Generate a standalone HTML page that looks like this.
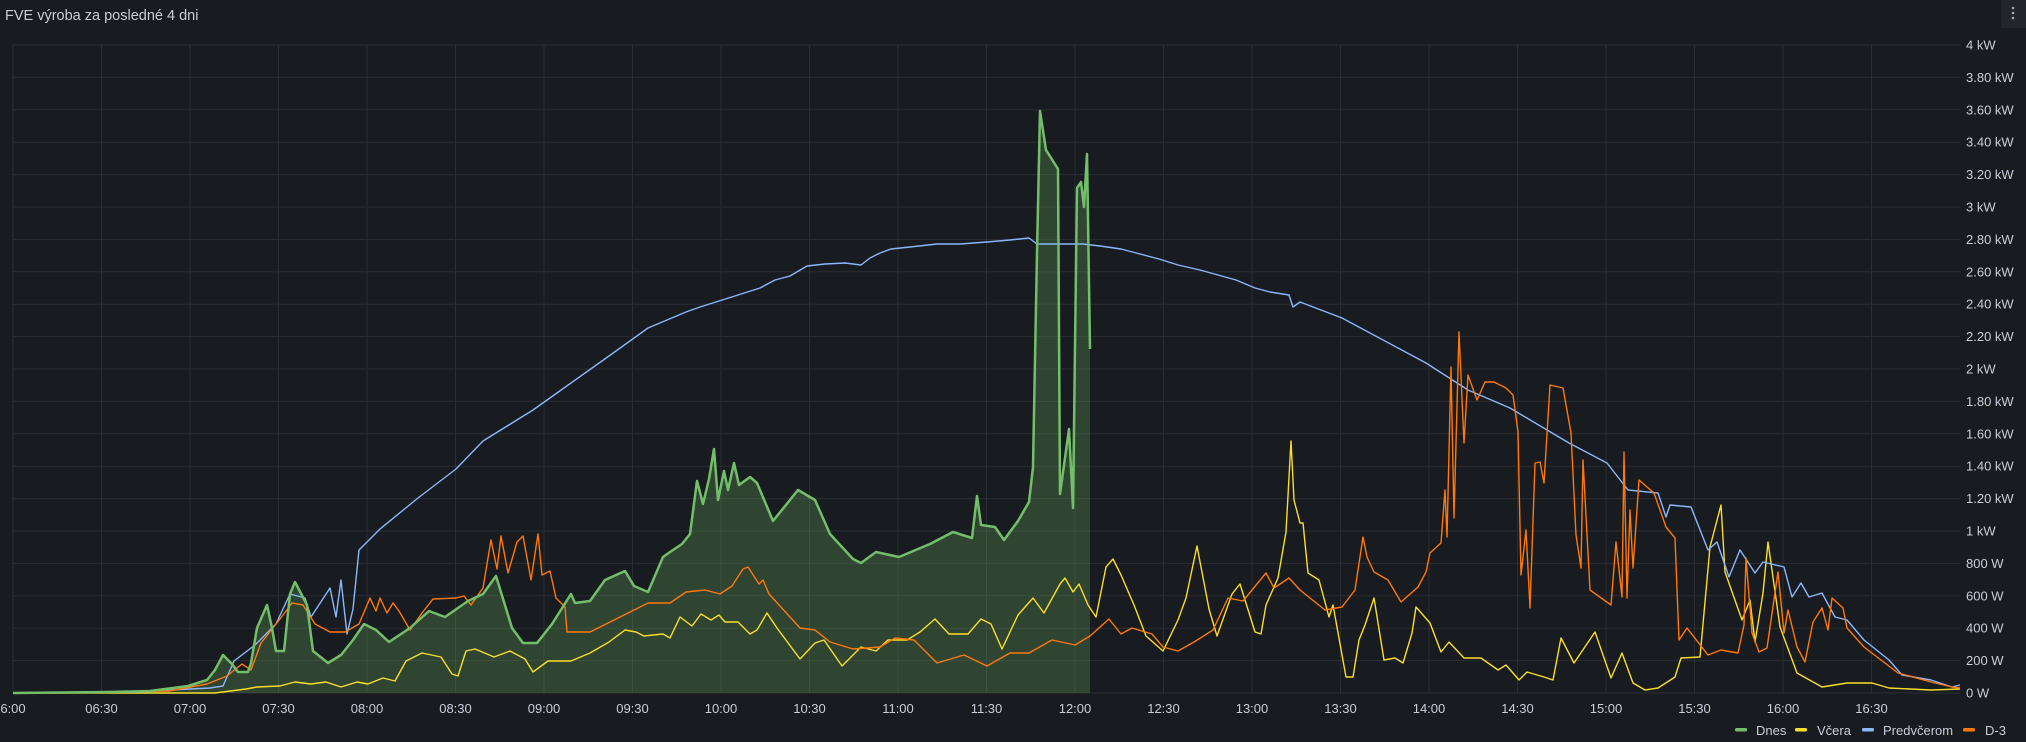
<!DOCTYPE html>
<html><head><meta charset="utf-8"><style>
html,body{margin:0;padding:0;background:#181b1f;width:2026px;height:742px;overflow:hidden;font-family:"Liberation Sans",sans-serif}
</style></head><body>
<svg width="2026" height="742" viewBox="0 0 2026 742" xmlns="http://www.w3.org/2000/svg" font-family="Liberation Sans, sans-serif">
<rect width="2026" height="742" fill="#181b1f"/>
<text x="5" y="20" font-size="14.5" fill="#ccccdc">FVE výroba za posledné 4 dni</text>
<rect x="2001" y="0" width="25" height="28" fill="#22252b"/>
<circle cx="2013" cy="8" r="1.3" fill="#aaa"/><circle cx="2013" cy="13" r="1.3" fill="#aaa"/><circle cx="2013" cy="18" r="1.3" fill="#aaa"/>
<g stroke="#2a2d33" stroke-width="1">
<line x1="13" x2="1960" y1="45" y2="45"/><line x1="13" x2="1960" y1="77.4" y2="77.4"/><line x1="13" x2="1960" y1="109.8" y2="109.8"/><line x1="13" x2="1960" y1="142.2" y2="142.2"/><line x1="13" x2="1960" y1="174.6" y2="174.6"/><line x1="13" x2="1960" y1="207" y2="207"/><line x1="13" x2="1960" y1="239.4" y2="239.4"/><line x1="13" x2="1960" y1="271.8" y2="271.8"/><line x1="13" x2="1960" y1="304.2" y2="304.2"/><line x1="13" x2="1960" y1="336.6" y2="336.6"/><line x1="13" x2="1960" y1="369" y2="369"/><line x1="13" x2="1960" y1="401.4" y2="401.4"/><line x1="13" x2="1960" y1="433.8" y2="433.8"/><line x1="13" x2="1960" y1="466.2" y2="466.2"/><line x1="13" x2="1960" y1="498.6" y2="498.6"/><line x1="13" x2="1960" y1="531" y2="531"/><line x1="13" x2="1960" y1="563.4" y2="563.4"/><line x1="13" x2="1960" y1="595.8" y2="595.8"/><line x1="13" x2="1960" y1="628.2" y2="628.2"/><line x1="13" x2="1960" y1="660.6" y2="660.6"/><line x1="13" x2="1960" y1="693" y2="693"/>
<line x1="13" x2="13" y1="45" y2="693"/><line x1="101.5" x2="101.5" y1="45" y2="693"/><line x1="190" x2="190" y1="45" y2="693"/><line x1="278.5" x2="278.5" y1="45" y2="693"/><line x1="367" x2="367" y1="45" y2="693"/><line x1="455.5" x2="455.5" y1="45" y2="693"/><line x1="544" x2="544" y1="45" y2="693"/><line x1="632.5" x2="632.5" y1="45" y2="693"/><line x1="721" x2="721" y1="45" y2="693"/><line x1="809.5" x2="809.5" y1="45" y2="693"/><line x1="898" x2="898" y1="45" y2="693"/><line x1="986.5" x2="986.5" y1="45" y2="693"/><line x1="1075" x2="1075" y1="45" y2="693"/><line x1="1163.5" x2="1163.5" y1="45" y2="693"/><line x1="1252" x2="1252" y1="45" y2="693"/><line x1="1340.5" x2="1340.5" y1="45" y2="693"/><line x1="1429" x2="1429" y1="45" y2="693"/><line x1="1517.5" x2="1517.5" y1="45" y2="693"/><line x1="1606" x2="1606" y1="45" y2="693"/><line x1="1694.5" x2="1694.5" y1="45" y2="693"/><line x1="1783" x2="1783" y1="45" y2="693"/><line x1="1871.5" x2="1871.5" y1="45" y2="693"/>
</g>
<g font-size="13" fill="#ccccdc">
<text x="1966" y="49.5">4 kW</text><text x="1966" y="81.9">3.80 kW</text><text x="1966" y="114.3">3.60 kW</text><text x="1966" y="146.7">3.40 kW</text><text x="1966" y="179.1">3.20 kW</text><text x="1966" y="211.5">3 kW</text><text x="1966" y="243.9">2.80 kW</text><text x="1966" y="276.3">2.60 kW</text><text x="1966" y="308.7">2.40 kW</text><text x="1966" y="341.1">2.20 kW</text><text x="1966" y="373.5">2 kW</text><text x="1966" y="405.9">1.80 kW</text><text x="1966" y="438.3">1.60 kW</text><text x="1966" y="470.7">1.40 kW</text><text x="1966" y="503.1">1.20 kW</text><text x="1966" y="535.5">1 kW</text><text x="1966" y="567.9">800 W</text><text x="1966" y="600.3">600 W</text><text x="1966" y="632.7">400 W</text><text x="1966" y="665.1">200 W</text><text x="1966" y="697.5">0 W</text>
</g>
<g font-size="13" fill="#ccccdc" text-anchor="middle">
<text x="13" y="713">6:00</text><text x="101.5" y="713">06:30</text><text x="190" y="713">07:00</text><text x="278.5" y="713">07:30</text><text x="367" y="713">08:00</text><text x="455.5" y="713">08:30</text><text x="544" y="713">09:00</text><text x="632.5" y="713">09:30</text><text x="721" y="713">10:00</text><text x="809.5" y="713">10:30</text><text x="898" y="713">11:00</text><text x="986.5" y="713">11:30</text><text x="1075" y="713">12:00</text><text x="1163.5" y="713">12:30</text><text x="1252" y="713">13:00</text><text x="1340.5" y="713">13:30</text><text x="1429" y="713">14:00</text><text x="1517.5" y="713">14:30</text><text x="1606" y="713">15:00</text><text x="1694.5" y="713">15:30</text><text x="1783" y="713">16:00</text><text x="1871.5" y="713">16:30</text>
</g>
<g fill="none" stroke-linejoin="round">
<polygon fill="rgba(115,191,105,0.25)" stroke="none" points="13,693 110,692 150,691 188,686 207,680 215,670 223,655 227,659 232,664 238,672 248,672 251,663 257,628 267,605 272,628 276,651 284,651 290,594 295,582 307,605 313,651 328,663 341,655 353,640 364,624 376,630 389,642 410,628 429,611 445,617 468,601 483,594 496,576 512,628 523,643 537,643 552,624 571,594 575,603 590,601 605,580 625,571 634,586 648,592 663,557 670,552 682,544 690,534 697,481 703,504 709,479 714,449 718,500 724,471 728,490 734,463 739,485 750,477 757,483 773,521 798,490 815,500 830,534 853,559 861,563 876,552 899,557 930,544 953,532 972,538 977,496 981,525 995,527 1004,540 1018,521 1029,502 1033,467 1037,253 1040,111 1046,150 1058,169 1060,494 1069,429 1073,508 1077,188 1081,182 1084,207 1087,154 1090,349 1090,693"/>
<polyline stroke="#fade2a" stroke-width="1.4" points="13,693 215,693 246,689 257,687 280,686 295,682 311,684 326,682 341,687 357,682 368,684 383,678 395,681 406,661 422,653 441,657 452,674 458,676 466,651 475,649 494,657 510,651 525,659 533,672 548,661 571,661 590,653 609,642 625,630 636,632 644,636 663,634 670,638 680,617 692,626 701,614 711,620 719,615 725,622 738,622 750,634 757,630 767,613 777,628 800,659 815,643 824,640 842,666 861,647 876,651 888,640 907,640 920,632 935,619 949,634 968,634 981,619 991,624 1002,649 1018,615 1033,598 1044,613 1060,584 1065,578 1073,592 1079,584 1088,605 1096,617 1106,567 1113,559 1121,575 1134,605 1146,636 1163,651 1178,620 1186,598 1197,546 1209,609 1217,636 1232,594 1240,584 1255,632 1261,634 1266,605 1278,578 1286,532 1291,441 1294,500 1300,523 1303,523 1308,573 1319,580 1329,617 1333,605 1346,677 1353,677 1359,640 1365,625 1374,598 1384,660 1395,658 1403,663 1412,633 1416,607 1430,623 1441,652 1449,642 1464,658 1481,658 1498,670 1506,665 1519,680 1527,672 1544,677 1553,680 1561,638 1574,663 1595,632 1611,678 1622,653 1633,683 1645,690 1658,688 1675,677 1681,658 1700,657 1710,547 1721,505 1725,572 1742,620 1750,600 1755,642 1763,593 1768,542 1780,627 1797,673 1822,687 1847,683 1872,683 1889,688 1931,690 1960,689"/>
<polyline stroke="#8ab8ff" stroke-width="1.4" points="13,693 140,692 170,690 190,689 210,688 223,686 234,661 255,645 276,624 290,594 305,598 311,617 330,588 336,617 341,580 347,634 353,609 359,550 380,529 418,498 456,469 483,441 533,410 571,383 609,356 648,328 686,312 700,307 738,295 760,288 775,280 790,276 807,266 825,264 845,263 861,265 870,258 880,253 891,249 910,247 937,244 960,244 987,242 1010,240 1029,238 1037,244 1060,244 1083,244 1100,246 1121,249 1140,254 1159,259 1178,265 1200,270 1236,280 1255,288 1270,292 1289,295 1293,307 1300,302 1342,318 1426,363 1468,390 1510,408 1569,443 1607,463 1628,490 1658,493 1666,517 1670,505 1691,507 1708,550 1717,542 1729,577 1740,550 1755,573 1763,562 1784,567 1792,597 1801,583 1809,597 1822,593 1835,617 1847,620 1864,640 1889,660 1902,675 1931,680 1952,687 1960,685"/>
<polyline stroke="#ff780a" stroke-width="1.4" points="13,693 110,692 169,691 207,684 227,676 242,664 251,670 261,643 280,619 292,603 303,605 315,624 330,632 345,632 359,624 370,598 376,611 380,598 387,613 393,603 399,611 410,630 422,613 433,599 456,598 464,596 471,605 483,588 491,540 497,569 501,536 508,573 517,542 523,536 531,580 538,534 542,575 550,571 556,598 565,607 567,632 590,632 628,613 648,603 670,603 686,592 705,590 720,594 732,586 743,569 748,567 759,584 763,580 769,594 800,628 815,630 830,642 853,649 880,647 895,638 914,640 937,663 964,655 987,666 1010,653 1029,653 1052,640 1075,645 1090,636 1109,619 1121,634 1132,628 1152,634 1163,647 1178,651 1194,642 1213,630 1228,598 1243,601 1266,573 1274,588 1289,578 1300,590 1325,610 1342,607 1355,590 1363,537 1367,557 1374,572 1388,580 1401,602 1418,587 1426,572 1430,553 1441,543 1445,490 1447,537 1451,367 1454,518 1459,332 1464,443 1468,375 1477,400 1485,382 1494,382 1506,388 1513,395 1518,432 1521,575 1526,530 1530,608 1535,463 1540,462 1544,483 1550,385 1563,388 1571,433 1576,535 1581,568 1583,460 1590,590 1611,605 1616,542 1622,597 1624,452 1627,598 1630,510 1633,568 1639,480 1654,493 1666,527 1675,538 1679,640 1687,628 1708,655 1721,650 1738,653 1744,625 1746,558 1752,633 1759,652 1767,648 1778,572 1784,633 1788,610 1797,647 1805,662 1813,622 1822,608 1828,630 1832,598 1843,608 1847,628 1864,647 1898,673 1931,682 1952,687 1960,688"/>
<polyline stroke="#73bf69" stroke-width="2.5" points="13,693 110,692 150,691 188,686 207,680 215,670 223,655 227,659 232,664 238,672 248,672 251,663 257,628 267,605 272,628 276,651 284,651 290,594 295,582 307,605 313,651 328,663 341,655 353,640 364,624 376,630 389,642 410,628 429,611 445,617 468,601 483,594 496,576 512,628 523,643 537,643 552,624 571,594 575,603 590,601 605,580 625,571 634,586 648,592 663,557 670,552 682,544 690,534 697,481 703,504 709,479 714,449 718,500 724,471 728,490 734,463 739,485 750,477 757,483 773,521 798,490 815,500 830,534 853,559 861,563 876,552 899,557 930,544 953,532 972,538 977,496 981,525 995,527 1004,540 1018,521 1029,502 1033,467 1037,253 1040,111 1046,150 1058,169 1060,494 1069,429 1073,508 1077,188 1081,182 1084,207 1087,154 1090,349"/>
</g>
<g font-size="13" fill="#ccccdc">
<rect x="1735" y="728" width="12" height="3.5" rx="1.5" fill="#73bf69"/><text x="1756" y="735">Dnes</text>
<rect x="1795" y="728" width="12" height="3.5" rx="1.5" fill="#fade2a"/><text x="1817" y="735">Včera</text>
<rect x="1862" y="728" width="12" height="3.5" rx="1.5" fill="#8ab8ff"/><text x="1883" y="735">Predvčerom</text>
<rect x="1963" y="728" width="12" height="3.5" rx="1.5" fill="#ff780a"/><text x="1985" y="735">D-3</text>
</g>
</svg>
</body></html>
